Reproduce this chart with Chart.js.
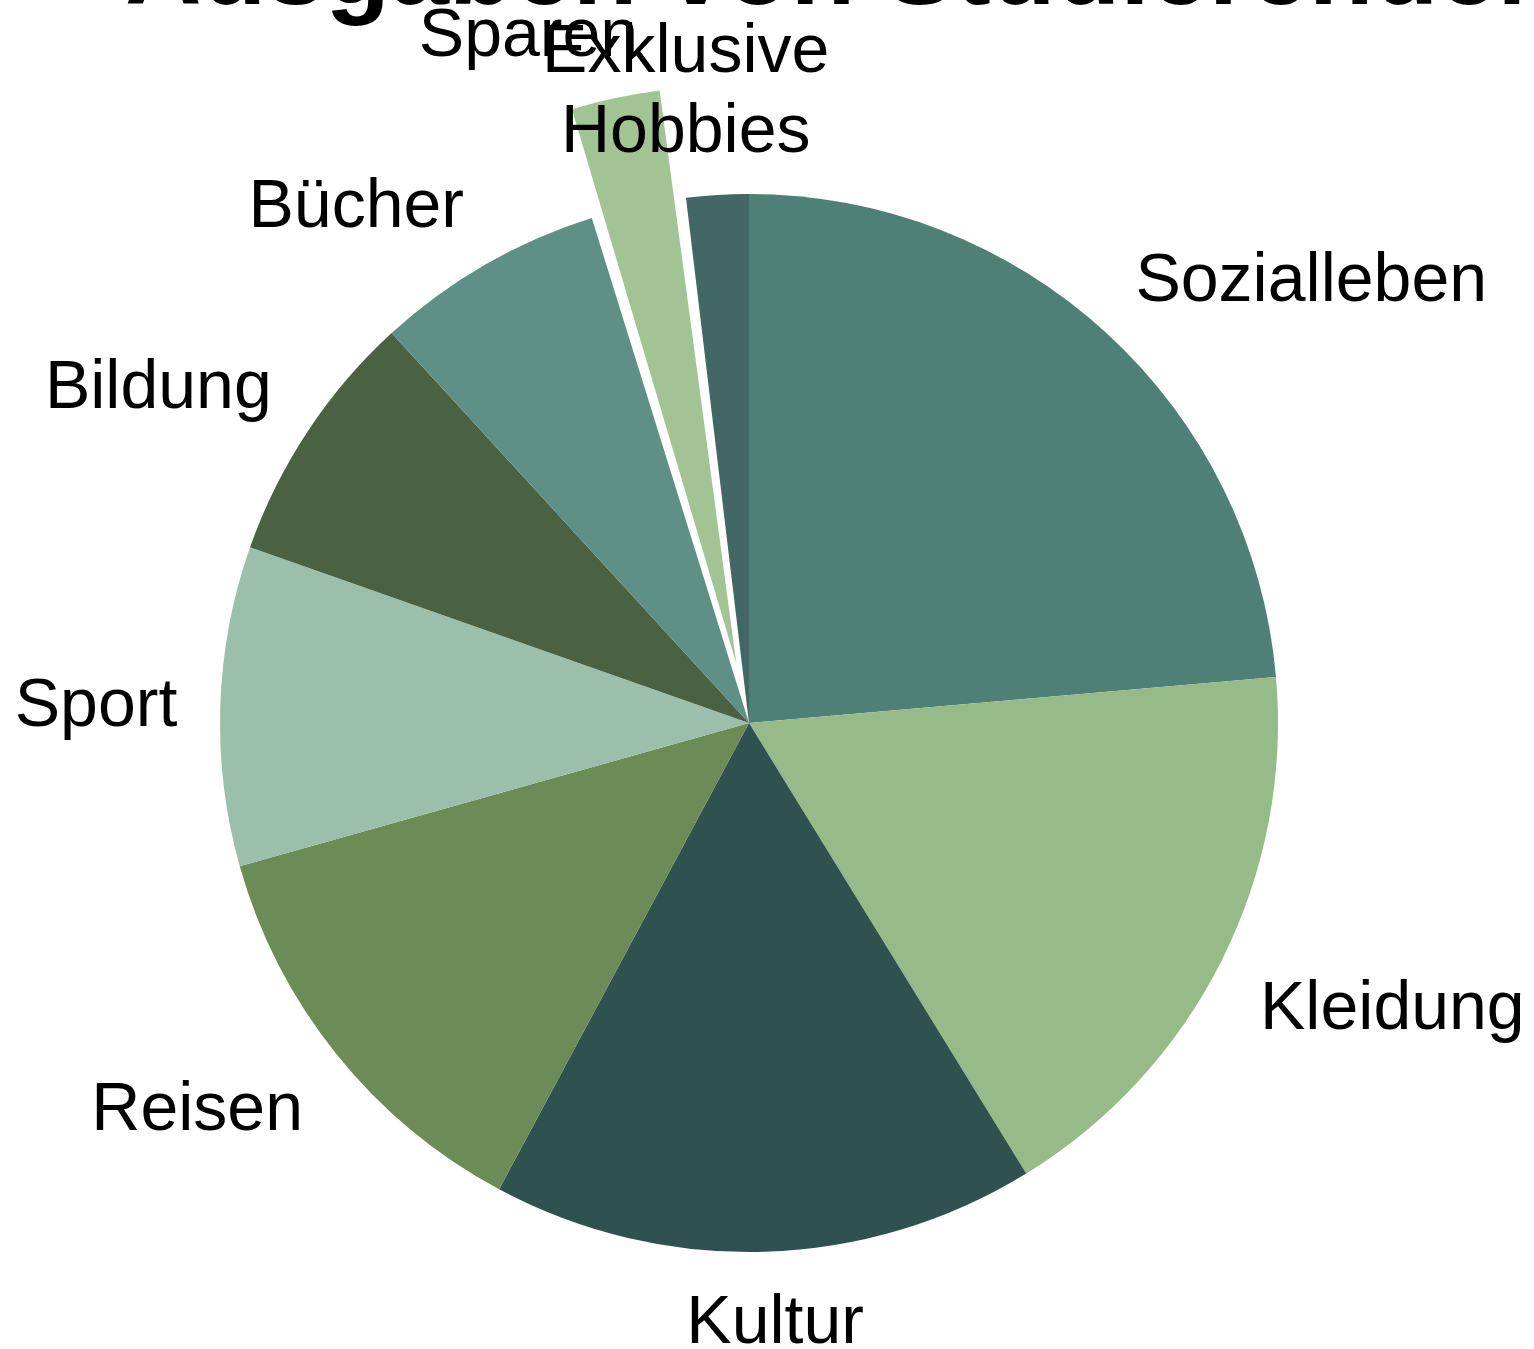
<!DOCTYPE html>
<html>
<head>
<meta charset="utf-8">
<script src="https://cdn.jsdelivr.net/npm/chart.js@4.4.1/dist/chart.umd.min.js"></script>
<style>
  html, body { margin: 0; padding: 0; background: #fff; }
  #wrap { width: 1534px; height: 1349px; position: relative; }
</style>
</head>
<body>
<div id="wrap"><canvas id="grafik-ausgaben"></canvas></div>
<script>
// Ausgaben von Studierenden (Anteile in %)
const titel = 'Ausgaben von Studierenden';
const kategorien = ['Sozialleben', 'Kleidung', 'Kultur', 'Reisen', 'Sport', 'Bildung', 'Bücher', 'Sparen', 'Exklusive Hobbies'];
const anteile = [23.6, 17.6, 16.6, 12.8, 9.75, 7.8, 7.0, 2.9, 1.9];
const farben = ['#4e8078', '#97bb88', '#2f5250', '#6b8c56', '#9bbfaa', '#4a6142', '#5f9088', '#a2c495', '#426764'];
const herausgezogen = ['Sparen'];

const FONT = '"Liberation Sans", Arial, sans-serif';
const LABEL_SIZE = 68;
const CAP = LABEL_SIZE * 0.716;
const LINE_H = 80;
const LABEL_PAD = 43;

// how far the text box is pushed to one side, 0 = centred on the bisector, 1 = corner on it
const side = v => Math.max(-1, Math.min(1, v * 3.4));

const wrapText = (ctx, text, maxW) => {
    if (ctx.measureText(text).width <= maxW) return [text];
    return text.split(' ');
};

// labels outside the slices, placed along the slice bisector
const outsideLabels = {
    id: 'outsideLabels',
    afterDatasetsDraw(chart) {
        const ctx = chart.ctx;
        const meta = chart.getDatasetMeta(0);
        ctx.save();
        ctx.font = LABEL_SIZE + 'px ' + FONT;
        ctx.fillStyle = '#000';
        ctx.textAlign = 'center';
        ctx.textBaseline = 'alphabetic';
        meta.data.forEach((arc, i) => {
            const p = arc.getProps(['x', 'y', 'startAngle', 'endAngle', 'outerRadius', 'circumference'], true);
            const mid = (p.startAngle + p.endAngle) / 2;
            const dx = Math.cos(mid), dy = Math.sin(mid);
            // same shift the arc element uses for an offset slice
            const off = (arc.options.offset || 0) / 4;
            const shift = off * (2 - Math.sin(Math.min(Math.PI, p.circumference)));
            const dist = p.outerRadius + shift + LABEL_PAD;
            const ax = p.x + dx * dist, ay = p.y + dy * dist;
            const lines = wrapText(ctx, chart.data.labels[i], 400);
            const w = Math.max(...lines.map(l => ctx.measureText(l).width));
            const h = CAP + (lines.length - 1) * LINE_H;
            const cx = ax + side(dx) * w / 2;
            const cy = ay + side(dy) * h / 2;
            const top = cy - h / 2;
            lines.forEach((l, k) => ctx.fillText(l, cx, top + CAP + k * LINE_H));
        });
        ctx.restore();
    }
};

// big title, cut off at the top edge like in the original
const titlePlugin = {
    id: 'titelOben',
    afterDraw(chart) {
        const ctx = chart.ctx;
        ctx.save();
        ctx.font = 'bold 106px ' + FONT;
        ctx.fillStyle = '#000';
        ctx.textAlign = 'left';
        ctx.textBaseline = 'alphabetic';
        ctx.fillText(titel, 125, 4);
        ctx.restore();
    }
};

const ctxAusgaben = document.getElementById('grafik-ausgaben');
new Chart(ctxAusgaben, {
    type: 'pie',
    data: {
        labels: kategorien,
        datasets: [{
            data: anteile,
            backgroundColor: farben,
            borderWidth: 0,
            offset: kategorien.map(k => herausgezogen.includes(k) ? 242 : 0)
        }]
    },
    options: {
        responsive: true,
        maintainAspectRatio: false,
        animation: false,
        radius: 529,
        layout: { padding: { left: 0, right: 36, top: 97, bottom: 0 } },
        plugins: {
            legend: { display: false },
            tooltip: { enabled: false },
            title: { display: false }
        }
    },
    plugins: [outsideLabels, titlePlugin]
});
</script>
</body>
</html>
